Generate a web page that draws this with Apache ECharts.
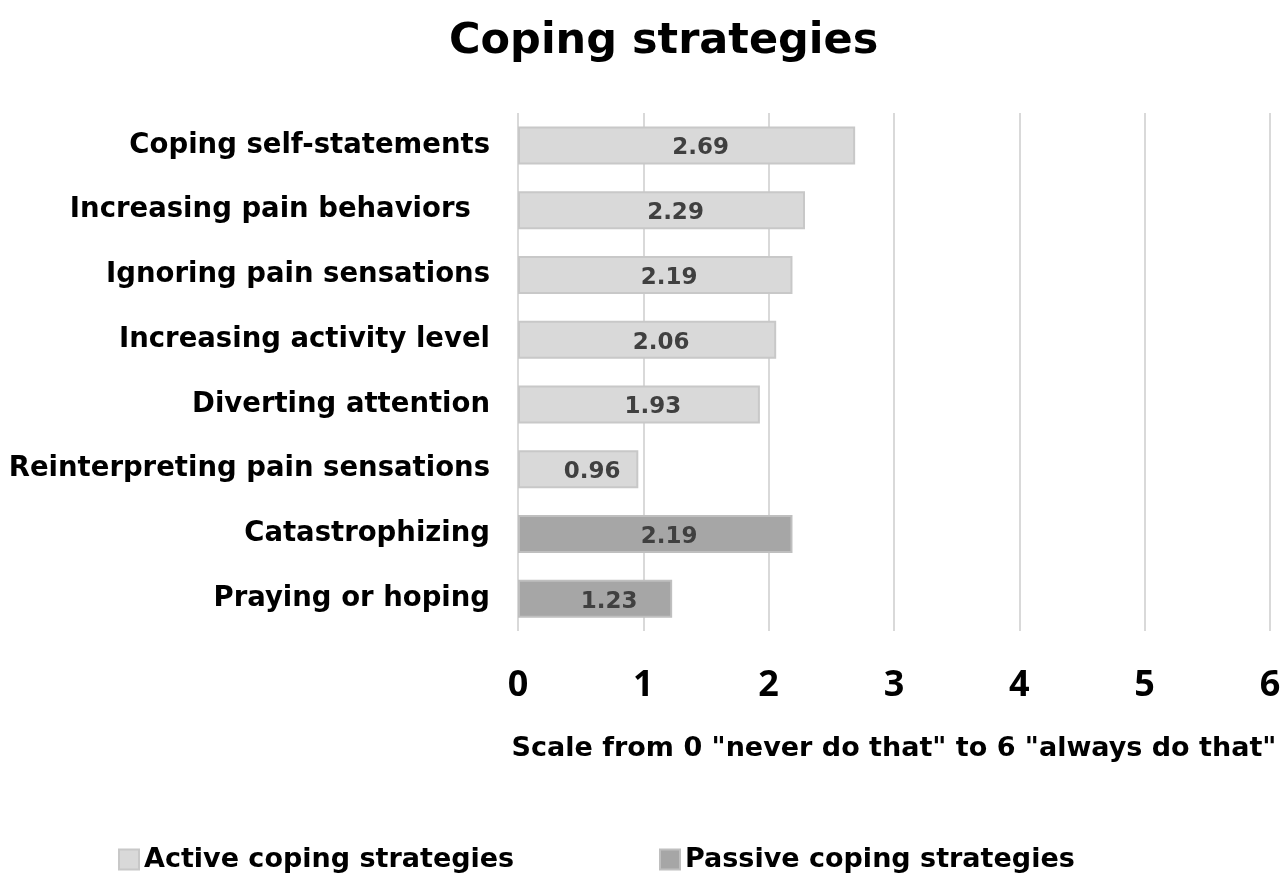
<!DOCTYPE html>
<html>
<head>
<meta charset="utf-8">
<script src="https://cdn.jsdelivr.net/npm/echarts@6/dist/echarts.min.js"></script>
<style>
  html, body { margin: 0; padding: 0; background: #fff; }
  #chart { width: 1281px; height: 876px; }
</style>
</head>
<body>
<div id="chart"></div>
<script>
const categories = [
  'Coping self-statements',
  'Increasing pain behaviors  ',
  'Ignoring pain sensations',
  'Increasing activity level',
  'Diverting attention',
  'Reinterpreting pain sensations',
  'Catastrophizing',
  'Praying or hoping'
]
const activeValues = [2.69, 2.29, 2.19, 2.06, 1.93, 0.96, null, null]
const passiveValues = [null, null, null, null, null, null, 2.19, 1.23]
const xTicks = [0, 1, 2, 3, 4, 5, 6]

const FONT = 'DejaVu Sans, Liberation Sans, Arial, sans-serif'

const chart = echarts.init(document.getElementById('chart'))

const labelStyle = {
  show: true,
  position: 'inside',
  offset: [14, 3],
  color: '#404040',
  fontFamily: FONT,
  fontWeight: 'bold',
  fontSize: 23,
  formatter: (p) => p.value.toFixed(2)
}

const legendText = { fontFamily: FONT, fontWeight: 'bold', fontSize: 27, color: '#000' }

chart.setOption({
  animation: false,
  title: {
    text: 'Coping strategies',
    left: 444,
    top: 15,
    textStyle: { fontFamily: FONT, fontWeight: 'bold', fontSize: 43, color: '#000' }
  },
  legend: [
    {
      data: ['Active coping strategies'],
      left: 113,
      top: 841,
      icon: 'rect',
      itemWidth: 20,
      itemHeight: 20,
      textStyle: legendText
    },
    {
      data: ['Passive coping strategies'],
      left: 654,
      top: 841,
      icon: 'rect',
      itemWidth: 20,
      itemHeight: 20,
      textStyle: legendText
    }
  ],
  grid: { left: 518, right: 11, top: 113, bottom: 245, containLabel: false, outerBoundsMode: 'none' },
  xAxis: {
    type: 'value',
    min: 0,
    max: 6,
    interval: 1,
    axisLine: { show: false },
    axisTick: { show: false },
    splitLine: { lineStyle: { color: '#d9d9d9', width: 2 } },
    axisLabel: {
      margin: 37,
      color: '#000',
      fontFamily: 'Open Sans, sans-serif',
      fontWeight: 'bold',
      fontSize: 36,
      formatter: (v) => (xTicks.includes(v) ? String(v) : '')
    },
    name: 'Scale from 0 "never do that" to 6 "always do that"',
    nameLocation: 'middle',
    nameGap: 104,
    nameTextStyle: { color: '#000', fontFamily: FONT, fontWeight: 'bold', fontSize: 27 }
  },
  yAxis: {
    type: 'category',
    data: categories,
    inverse: true,
    axisLine: { show: false },
    axisTick: { show: false },
    axisLabel: { margin: 28, color: '#000', fontFamily: FONT, fontWeight: 'bold', fontSize: 27.5 }
  },
  series: [
    {
      name: 'Active coping strategies',
      type: 'bar',
      stack: 'all',
      barWidth: 38,
      data: activeValues,
      itemStyle: { color: '#d9d9d9', borderColor: '#c8c8c8', borderWidth: 2 },
      label: labelStyle
    },
    {
      name: 'Passive coping strategies',
      type: 'bar',
      stack: 'all',
      barWidth: 38,
      data: passiveValues,
      itemStyle: { color: '#a6a6a6', borderColor: '#bfbfbf', borderWidth: 2 },
      label: labelStyle
    }
  ]
})
</script>
</body>
</html>
